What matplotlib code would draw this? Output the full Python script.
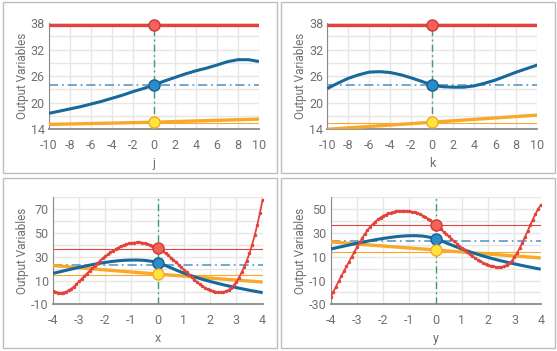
import numpy as np
import matplotlib
matplotlib.use('Agg')
from matplotlib import pyplot as plt
from matplotlib.patches import Rectangle

plt.rcParams['font.family'] = ['Roboto', 'DejaVu Sans']
plt.rcParams['axes.unicode_minus'] = False

W, H = 557, 351

# ---- data ----
# top row: factors j and k, sampled every unit
j_pts = [-10, -9, -8, -7, -6, -5, -4, -3, -2, -1, 0, 1, 2, 3, 4, 5, 6, 7, 8, 9, 10]
red_j = [37.5] * 21
blue_j = [17.6, 18.1, 18.6, 19.1, 19.7, 20.3, 21.0, 21.7, 22.5, 23.2, 24.0,
          24.9, 25.7, 26.5, 27.2, 27.8, 28.5, 29.25, 29.7, 29.7, 29.3]
red_k = [37.5] * 21
blue_k = [23.2, 24.4, 25.5, 26.3, 26.9, 27.0, 26.8, 26.3, 25.6, 24.8, 24.0,
          23.6, 23.5, 23.5, 23.8, 24.4, 25.1, 26.0, 26.9, 27.7, 28.5]
orange_top_pts = [-10, -5, 0, 5, 10]
orange_j = [15.1, 15.35, 15.6, 15.95, 16.3]
orange_k = [14.0, 14.8, 15.6, 16.4, 17.2]

# bottom row: factors x and y
fine_pts = np.round(np.linspace(-4, 4, 81), 2)
red_x = [1.5, 0.5, -0.2, -0.4, -0.1, 0.6, 1.6, 3.0, 4.8, 6.9,
         9.2, 11.4, 13.6, 15.8, 18.0, 20.2, 22.4, 24.6, 26.7, 28.6,
         30.3, 32.0, 33.6, 35.1, 36.5, 37.7, 38.8, 39.7, 40.5, 41.1,
         41.6, 41.9, 42.0, 42.0, 41.8, 41.4, 40.8, 40.1, 39.2, 38.2,
         37.1, 35.8, 34.4, 32.8, 31.1, 29.3, 27.4, 25.4, 23.3, 21.2,
         19.0, 16.8, 14.7, 12.6, 10.6, 8.7, 7.0, 5.4, 4.0, 2.8,
         1.8, 1.1, 0.6, 0.3, 0.2, 0.4, 1.0, 2.0, 3.6, 5.8,
         8.8, 12.5, 16.8, 21.5, 26.8, 32.8, 40.0, 48.0, 57.0, 67.0,
         78.0]
red_y = [-24.0, -19.6, -15.2, -10.8, -6.5, -2.3, 1.8, 5.9, 10.0, 14.0,
         18.0, 22.0, 25.8, 29.2, 32.3, 35.0, 37.4, 39.5, 41.4, 43.0,
         44.4, 45.5, 46.4, 47.2, 47.8, 48.2, 48.5, 48.6, 48.6, 48.5,
         48.3, 47.9, 47.3, 46.6, 45.7, 44.6, 43.4, 42.0, 40.5, 38.8,
         37.0, 35.1, 33.1, 31.1, 29.1, 27.1, 25.1, 23.1, 21.1, 19.2,
         17.3, 15.5, 13.7, 12.0, 10.4, 8.9, 7.5, 6.2, 5.0, 4.0,
         3.1, 2.4, 1.8, 1.4, 1.3, 1.4, 1.9, 2.9, 4.4, 6.5,
         9.5, 13.2, 17.3, 21.8, 26.6, 31.5, 36.5, 41.3, 45.8, 50.0,
         53.5]
quarter_pts = [-4, -3.75, -3.5, -3.25, -3, -2.75, -2.5, -2.25, -2, -1.75, -1.5,
               -1.25, -1, -0.75, -0.5, -0.25, 0, 0.25, 0.5, 0.75, 1, 1.25, 1.5,
               1.75, 2, 2.25, 2.5, 2.75, 3, 3.25, 3.5, 3.75, 4]
blue_x = [16.0, 17.2, 18.5, 19.8, 21.0, 22.2, 23.3, 24.3, 25.2, 26.0, 26.6,
          27.0, 27.2, 27.2, 26.9, 26.2, 25.0, 23.0, 20.7, 18.3, 16.2, 14.2,
          12.4, 10.7, 9.2, 7.8, 6.4, 5.2, 4.0, 2.9, 1.8, 0.8, -0.2]
blue_y = [16.5, 17.7, 18.9, 20.1, 21.3, 22.4, 23.5, 24.5, 25.4, 26.2, 26.9,
          27.4, 27.7, 27.7, 27.4, 26.5, 25.0, 23.0, 20.8, 18.6, 16.5, 14.5,
          12.7, 11.0, 9.4, 7.9, 6.5, 5.2, 4.0, 2.8, 1.7, 0.6, -0.5]
orange_bot_pts = [-4, -2, 0, 2, 4]
orange_x = [22.6, 18.9, 15.4, 12.0, 8.7]
orange_y = [22.5, 19.0, 15.7, 12.3, 9.0]

# reference lines: red, blue (dash-dot), orange
ref_top = [37.5, 23.9, 15.45]
ref_bot = [36.3, 23.2, 14.4]

top_ticks = [-10, -8, -6, -4, -2, 0, 2, 4, 6, 8, 10]
bot_ticks = [-4, -3, -2, -1, 0, 1, 2, 3, 4]

RED, BLUE, ORANGE = '#e2433d', '#17699b', '#f8a82a'
GREEN, BLUE_REF = '#3f9f6a', '#4b8fc0'
GRAY = '#707070'


def fig_box(x0, y0, x1, y1):
    return [x0 / W, 1 - y1 / H, (x1 - x0) / W, (y1 - y0) / H]


def draw_panel(ax, label, xs, red, xb, blue, xo, orange, refs, xlim, ylim,
               xticks, yticks, ystep, dotted, ylab_px):
    ax.set_xlim(*xlim)
    ax.set_ylim(*ylim)
    ax.set_xticks(xticks)
    ax.set_yticks(yticks)
    ax.set_yticks(np.arange(ylim[0], ylim[1] + 0.01, ystep), minor=True)
    ax.grid(True, which='major', axis='x', color='#e6e6e6', lw=1)
    ax.grid(True, which='both', axis='y', color='#e6e6e6', lw=1)
    ax.set_axisbelow(True)
    for s in ['top', 'right']:
        ax.spines[s].set_visible(False)
    ax.spines['left'].set_color('#8a8a8a')
    ax.spines['left'].set_linewidth(0.8)
    ax.spines['bottom'].set_color('#8a8a8a')
    ax.spines['bottom'].set_linewidth(1.3)
    ax.tick_params(which='both', length=0, labelsize=9, colors=GRAY)
    ax.tick_params(axis='x', pad=7)
    ax.tick_params(axis='y', pad=3)

    ax.axvline(0, color=GREEN, lw=1, dashes=(5, 2.5, 1.2, 2.5), zorder=2)
    ax.axhline(refs[0], color=RED, lw=0.8, zorder=2)
    ax.axhline(refs[2], color=ORANGE, lw=0.8, zorder=2)
    ax.axhline(refs[1], color=BLUE_REF, lw=1.1, dashes=(6, 2.5, 1.2, 2.5), zorder=2)

    ax.plot(xo, orange, color=ORANGE, lw=2.4, solid_capstyle='butt', zorder=3)
    ax.plot(xb, blue, color=BLUE, lw=2.2, solid_capstyle='butt', zorder=4)
    if dotted:
        ax.plot(xs, red, color=RED, lw=1.3, marker='o', ms=1.5, zorder=5)
    else:
        ax.plot(xs, red, color=RED, lw=2.4, solid_capstyle='butt', zorder=5)

    # current point markers at factor value 0
    ax.plot(0, np.interp(0, xs, red), 'o', ms=8, mfc='#f2615b', mec='#cf3a34',
            mew=1, zorder=6, clip_on=False)
    ax.plot(0, np.interp(0, xb, blue), 'o', ms=8, mfc='#2a8ccc', mec='#185f8c',
            mew=1, zorder=6, clip_on=False)
    ax.plot(0, np.interp(0, xo, orange), 'o', ms=8, mfc='#ffe53b', mec='#f4a82a',
            mew=1, zorder=6, clip_on=False)

    ax.set_xlabel(label, fontsize=9, color=GRAY)
    ax.xaxis.set_label_coords(0.5, -0.26)
    ax.set_ylabel('Output Variables', fontsize=8.5, color=GRAY)
    ax.yaxis.set_label_coords(ylab_px, 0.5)
    ax.yaxis.label.set_va('center')


fig = plt.figure(figsize=(W / 100, H / 100), dpi=100)
fig.patch.set_facecolor('white')

for (x0, y0, x1, y1) in [(2.7, 1.7, 277.3, 173.3), (280.7, 1.7, 554.7, 173.3),
                         (2.7, 177.7, 277.3, 347.7), (280.7, 177.7, 554.7, 347.7)]:
    fig.add_artist(Rectangle((x0 / W, 1 - y1 / H), (x1 - x0) / W, (y1 - y0) / H,
                             transform=fig.transFigure, fill=False, ec='#bdbdbd', lw=1))

ax1 = fig.add_axes(fig_box(49, 22.9, 259, 129.3))
draw_panel(ax1, 'j', j_pts, red_j, j_pts, blue_j, orange_top_pts, orange_j, ref_top,
           (-10, 10), (14, 38), top_ticks, [14, 20, 26, 32, 38], 3, False,
           (22.3 - 49) / 210)

ax2 = fig.add_axes(fig_box(327.3, 22.9, 537.3, 129.3))
draw_panel(ax2, 'k', j_pts, red_k, j_pts, blue_k, orange_top_pts, orange_k, ref_top,
           (-10, 10), (14, 38), top_ticks, [14, 20, 26, 32, 38], 3, False,
           (300.5 - 327.3) / 210)

ax3 = fig.add_axes(fig_box(52.8, 197.2, 262.6, 304.3))
draw_panel(ax3, 'x', fine_pts, red_x, quarter_pts, blue_x, orange_bot_pts, orange_x, ref_bot,
           (-4, 4), (-10, 80), bot_ticks, [-10, 10, 30, 50, 70], 10, True,
           (22.3 - 52.8) / 209.8)

ax4 = fig.add_axes(fig_box(330.7, 197.3, 540.7, 304.3))
draw_panel(ax4, 'y', fine_pts, red_y, quarter_pts, blue_y, orange_bot_pts, orange_y, ref_bot,
           (-4, 4), (-30, 60), bot_ticks, [-30, -10, 10, 30, 50], 10, True,
           (300.5 - 330.7) / 210)

fig.savefig('out.png', dpi=100)
